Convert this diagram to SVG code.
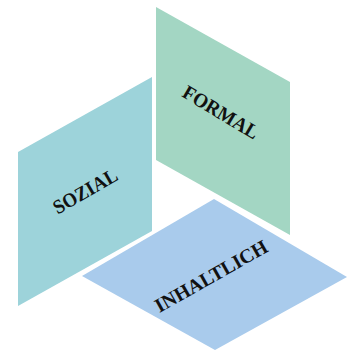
<svg xmlns="http://www.w3.org/2000/svg" width="354" height="351" viewBox="0 0 354 351">
  <style>
    .face { stroke: none; }
    .formal { fill: #a3d6c3; }
    .sozial { fill: #9dd3da; }
    .inhalt { fill: #a9cbec; }
    .label { font-family: "Liberation Serif", "DejaVu Serif", serif; font-weight: bold; font-size: 20px; fill: #111; text-anchor: middle; }
  </style>
  <rect width="354" height="351" fill="#ffffff"/>

  <!-- right vertical face -->
  <g id="formal">
    <polygon class="face formal" points="156,7 290,82 290,235 156,160"/>
    <text class="label" transform="translate(221,112) rotate(31)" x="0" y="7" textLength="85" lengthAdjust="spacingAndGlyphs">FORMAL</text>
  </g>

  <!-- left vertical face -->
  <g id="sozial">
    <polygon class="face sozial" points="18,152 152,77 152,231 18,306"/>
    <text class="label" transform="translate(85,191) rotate(-30)" x="0" y="7" textLength="71" lengthAdjust="spacingAndGlyphs">SOZIAL</text>
  </g>

  <!-- floor face -->
  <g id="inhaltlich">
    <polygon class="face inhalt" points="82,276 214,199 347,277 215,350"/>
    <text class="label" transform="translate(211,276) rotate(-29.5)" x="0" y="7" textLength="126" lengthAdjust="spacingAndGlyphs">INHALTLICH</text>
  </g>

  <g id="connectors"/>
</svg>
